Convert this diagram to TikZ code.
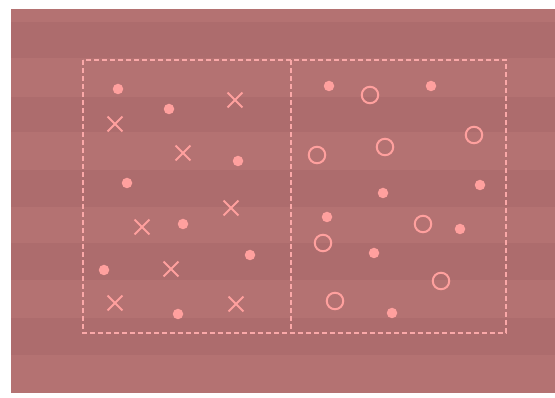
\documentclass[tikz,border=0pt]{standalone}
\usetikzlibrary{shapes.misc}
\definecolor{bglight}{RGB}{180,114,114}
\definecolor{bgdark}{RGB}{173,108,109}
\definecolor{mark}{RGB}{255,160,158}
\definecolor{frame}{RGB}{250,168,168}
\tikzset{
  dotm/.style={circle,fill=mark,inner sep=0pt,minimum size=10.5pt},
  ringm/.style={circle,draw=mark,line width=2pt,inner sep=0pt,minimum size=16.5pt},
  crossm/.style={cross out,draw=mark,line width=1.8pt,inner sep=0pt,minimum size=13pt},
  framel/.style={draw=frame,line width=1.2pt,dash pattern=on 5pt off 3pt}
}
\begin{document}
\begin{tikzpicture}[x=1pt,y=-1pt]
\useasboundingbox (0,0) rectangle (555,398);
\fill[white] (0,0) rectangle (555,398);
% background stripes
\fill[bglight] (11,9) rectangle (555,393);
\foreach \a/\b in {22/58,97/132,170/207,243/280,318/355}
  \fill[bgdark] (11,\a) rectangle (555,\b);
% frame
\coordinate (tl) at (83,60);
\coordinate (br) at (506,333);
\coordinate (mt) at (291,60);
\coordinate (mb) at (291,333);
\draw[framel] (tl) rectangle (br);
\draw[framel] (mt) -- (mb);
% left half: dots
\node[dotm] (d1) at (118,89) {};
\node[dotm] (d2) at (169,109) {};
\node[dotm] (d3) at (238,161) {};
\node[dotm] (d4) at (127,183) {};
\node[dotm] (d5) at (183,224) {};
\node[dotm] (d6) at (250,255) {};
\node[dotm] (d7) at (104,270) {};
\node[dotm] (d8) at (178,314) {};
% left half: crosses
\node[crossm] (x1) at (235,100) {};
\node[crossm] (x2) at (115,124) {};
\node[crossm] (x3) at (183,153) {};
\node[crossm] (x4) at (231,208) {};
\node[crossm] (x5) at (142,227) {};
\node[crossm] (x6) at (171,269) {};
\node[crossm] (x7) at (115,303) {};
\node[crossm] (x8) at (236,304) {};
% right half: dots
\node[dotm] (e1) at (329,86) {};
\node[dotm] (e2) at (431,86) {};
\node[dotm] (e3) at (480,185) {};
\node[dotm] (e4) at (383,193) {};
\node[dotm] (e5) at (327,217) {};
\node[dotm] (e6) at (460,229) {};
\node[dotm] (e7) at (374,253) {};
\node[dotm] (e8) at (392,313) {};
% right half: rings
\node[ringm] (o1) at (370,95) {};
\node[ringm] (o2) at (474,135) {};
\node[ringm] (o3) at (385,147) {};
\node[ringm] (o4) at (317,155) {};
\node[ringm] (o5) at (423,224) {};
\node[ringm] (o6) at (323,243) {};
\node[ringm] (o7) at (441,281) {};
\node[ringm] (o8) at (335,301) {};
\end{tikzpicture}
\end{document}
